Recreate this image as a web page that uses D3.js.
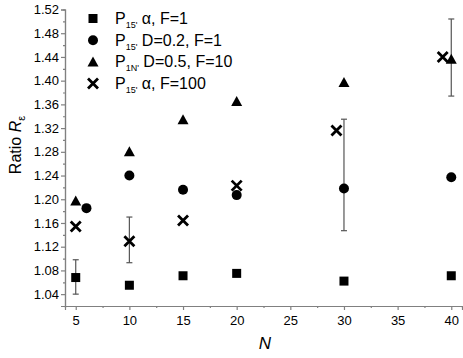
<!DOCTYPE html>
<html>
<head>
<meta charset="utf-8">
<script src="https://cdn.jsdelivr.net/npm/d3@7"></script>
<style>
  body { margin: 0; background: #fff; }
  text { font-family: "Liberation Sans", Arial, sans-serif; }
</style>
</head>
<body>
<script>
// data
var squareN = [5, 10, 15, 20, 30, 40];
var squareR = [1.068, 1.055, 1.071, 1.075, 1.062, 1.071];
var circleN = [6, 10, 15, 20, 30, 40];
var circleR = [1.185, 1.240, 1.216, 1.207, 1.218, 1.237];
var triN = [5, 10, 15, 20, 30, 40];
var triR = [1.197, 1.280, 1.334, 1.365, 1.397, 1.436];
var crossN = [5, 10, 15, 20, 29.3, 39.2];
var crossR = [1.154, 1.129, 1.164, 1.223, 1.316, 1.440];
var errN = [5, 10, 30, 40];
var errLow = [1.040, 1.093, 1.147, 1.374];
var errHigh = [1.098, 1.170, 1.335, 1.504];
var xTicks = [5, 10, 15, 20, 25, 30, 35, 40];
var yTicks = [1.04, 1.08, 1.12, 1.16, 1.20, 1.24, 1.28, 1.32, 1.36, 1.40, 1.44, 1.48, 1.52];

var width = 463, height = 358;
var plotLeft = 65, plotRight = 462, plotTop = 9.5, plotBottom = 306;

var svg = d3.select("body").append("svg")
    .attr("width", width)
    .attr("height", height);

var x = d3.scaleLinear().domain([4, 41]).range([plotLeft, plotRight]);
var y = d3.scaleLinear().domain([1.02, 1.52]).range([plotBottom, plotTop]);

var axisColor = "#808080";

// x axis
var xAxis = svg.append("g")
    .attr("transform", "translate(0," + plotBottom + ")")
    .call(d3.axisBottom(x).tickValues(xTicks).tickSize(4).tickFormat(d3.format("d")));
var xMinor = svg.append("g")
    .attr("transform", "translate(0," + plotBottom + ")")
    .call(d3.axisBottom(x).tickValues([7.5, 12.5, 17.5, 22.5, 27.5, 32.5, 37.5]).tickSize(2).tickFormat(""));

// y axis
var yAxis = svg.append("g")
    .attr("transform", "translate(" + plotLeft + ",0)")
    .call(d3.axisLeft(y).tickValues(yTicks).tickSize(4).tickFormat(d3.format(".2f")));
var yMinor = svg.append("g")
    .attr("transform", "translate(" + plotLeft + ",0)")
    .call(d3.axisLeft(y).tickValues(d3.range(1.06, 1.52, 0.04)).tickSize(2).tickFormat(""));

[xAxis, xMinor, yAxis, yMinor].forEach(function(g) {
    g.select(".domain").attr("stroke", axisColor).attr("stroke-width", 1.2);
    g.selectAll(".tick line").attr("stroke", axisColor).attr("stroke-width", 1.2);
    g.selectAll(".tick text").attr("fill", "#000").style("font-size", "13px")
        .style("font-family", "'Liberation Sans', Arial, sans-serif");
});
xAxis.selectAll(".tick text").attr("y", 10).attr("dy", "0.71em");
yAxis.selectAll(".tick text").attr("x", -6);

// axis titles
var yTitle = svg.append("text")
    .attr("transform", "translate(21,145) rotate(-90)")
    .attr("text-anchor", "middle")
    .style("font-size", "16px");
yTitle.append("tspan").text("Ratio ");
yTitle.append("tspan").style("font-style", "italic").text("R");
yTitle.append("tspan").attr("dy", 4).style("font-size", "11px").text("ε");

svg.append("text")
    .attr("x", 265).attr("y", 349)
    .attr("text-anchor", "middle")
    .style("font-size", "17px")
    .style("font-style", "italic")
    .text("N");

// error bars
var errG = svg.append("g").attr("stroke", "#555").attr("stroke-width", 1.2);
errN.forEach(function(n, i) {
    errG.append("line").attr("x1", x(n)).attr("x2", x(n)).attr("y1", y(errLow[i])).attr("y2", y(errHigh[i]));
    errG.append("line").attr("x1", x(n) - 3).attr("x2", x(n) + 3).attr("y1", y(errLow[i])).attr("y2", y(errLow[i]));
    errG.append("line").attr("x1", x(n) - 3).attr("x2", x(n) + 3).attr("y1", y(errHigh[i])).attr("y2", y(errHigh[i]));
});

// marker drawing
function drawMarker(g, kind, cx, cy) {
    if (kind == "square") {
        g.append("rect").attr("x", cx - 4.5).attr("y", cy - 4.5).attr("width", 9).attr("height", 9).attr("fill", "#000");
    } else if (kind == "circle") {
        g.append("circle").attr("cx", cx).attr("cy", cy).attr("r", 5).attr("fill", "#000");
    } else if (kind == "tri") {
        g.append("path").attr("d", "M" + cx + "," + (cy - 5.5) + "L" + (cx + 5.5) + "," + (cy + 4.5) + "L" + (cx - 5.5) + "," + (cy + 4.5) + "Z").attr("fill", "#000");
    } else {
        g.append("path").attr("d", "M" + (cx - 5) + "," + (cy - 5) + "L" + (cx + 5) + "," + (cy + 5) + "M" + (cx + 5) + "," + (cy - 5) + "L" + (cx - 5) + "," + (cy + 5))
            .attr("stroke", "#000").attr("stroke-width", 2.8).attr("fill", "none");
    }
}

var series = [
    { kind: "square", n: squareN, r: squareR },
    { kind: "circle", n: circleN, r: circleR },
    { kind: "tri", n: triN, r: triR },
    { kind: "cross", n: crossN, r: crossR }
];
var pts = svg.append("g");
series.forEach(function(s) {
    for (var i = 0; i < s.n.length; i++) {
        drawMarker(pts, s.kind, x(s.n[i]), y(s.r[i]));
    }
});

// legend
var legend = [
    { kind: "square", sub: "15'", rest: " α, F=1" },
    { kind: "circle", sub: "15'", rest: " D=0.2, F=1" },
    { kind: "tri", sub: "1N'", rest: " D=0.5, F=10" },
    { kind: "cross", sub: "15'", rest: " α, F=100" }
];
var lg = svg.append("g");
legend.forEach(function(d, i) {
    var ly = 18.5 + i * 21.7;
    drawMarker(lg, d.kind, 93, ly);
    var t = lg.append("text").attr("x", 115).attr("y", ly + 5.5).style("font-size", "16px");
    t.append("tspan").text("P");
    t.append("tspan").attr("dy", 4).style("font-size", "9px").text(d.sub);
    t.append("tspan").attr("dy", -4).text(d.rest);
});
</script>
</body>
</html>
